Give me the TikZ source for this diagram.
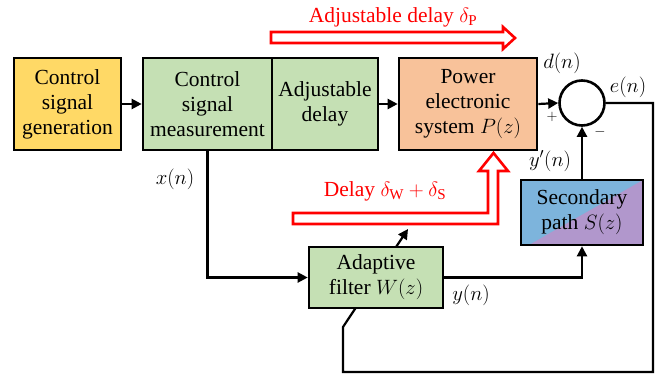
\documentclass[tikz,border=0pt]{standalone}
\usepackage{fontspec}
\setmainfont{Liberation Serif}
\usetikzlibrary{arrows.meta}
\definecolor{cyel}{HTML}{FFD966}
\definecolor{cgrn}{HTML}{C5E0B4}
\definecolor{corg}{HTML}{F8C29A}
\definecolor{cblu}{HTML}{7DB4DC}
\definecolor{cpur}{HTML}{B197CC}
\definecolor{cred}{HTML}{FF0000}
\begin{document}
\begin{tikzpicture}[x=1pt,y=-1pt,
  blk/.style={draw=black,line width=2.6pt,align=center,inner sep=0pt,
    font=\fontsize{21.5}{25}\selectfont},
  conn/.style={line width=2.2pt,-{Triangle[length=10pt,width=10pt]}},
  lbl/.style={font=\fontsize{21.5}{25}\selectfont,inner sep=0pt},
  hollow/.style={draw=cred,line width=2.6pt,fill=white,line join=miter}]
\useasboundingbox (0,0) rectangle (671,374);

% nodes
\node[blk,fill=cyel,minimum width=107pt,minimum height=92pt] (gen) at (67.5,104) {Control\\signal\\generation};
\node[blk,fill=cgrn,minimum width=129pt,minimum height=92pt] (meas) at (207.5,104) {Control\\signal\\measurement};
\node[blk,fill=cgrn,minimum width=106pt,minimum height=92pt] (adj) at (325,104) {Adjustable\\delay};
\node[blk,fill=corg,minimum width=138pt,minimum height=92pt] (pes) at (468,104) {Power\\electronic\\system $P(z)$};
\node[draw=black,line width=2.6pt,circle,minimum size=45pt,inner sep=0pt] (sum) at (582,103) {};
\node[blk,minimum width=122pt,minimum height=65pt,
  path picture={\fill[cblu] (path picture bounding box.north west) rectangle (path picture bounding box.south east);
    \fill[cpur] ([xshift=8pt]path picture bounding box.south west) -- (path picture bounding box.north east) -- (path picture bounding box.south east) -- cycle;}]
  (sec) at (582,212.5) {Secondary\\path $S(z)$};

\coordinate (c1) at (653,103);
\coordinate (c2) at (653,372);
\coordinate (c3) at (343,372);
\coordinate (c4) at (343,327);
\coordinate (c5) at (408,229);
\draw[conn] (sum.east) -- (c1) -- (c2) -- (c3) -- (c4) -- (c5);

\node[blk,fill=cgrn,minimum width=134pt,minimum height=61pt] (filt) at (376,277.5) {Adaptive\\filter $W(z)$};

% connectors
\draw[conn] (gen.east) -- (meas.west);
\draw[conn] (adj.east |- pes.west) -- (pes.west);
\draw[conn] (pes.east) -- (sum.west);
\draw[conn] (meas.south) |- (filt.west);
\draw[conn] (filt.east) -| (sec.south);
\draw[conn] (sec.north) -- (sum.south);

% labels
\node[lbl] (ld) at (562,63) {$d(n)$};
\node[lbl] (le) at (628,87) {$e(n)$};
\node[lbl,font=\fontsize{15}{15}\selectfont] (lp) at (552,117) {$+$};
\node[lbl,font=\fontsize{15}{15}\selectfont] (lm) at (600,132) {$-$};
\node[lbl] (lyp) at (550,161) {$y'(n)$};
\node[lbl] (lx) at (175,179) {$x(n)$};
\node[lbl] (ly) at (471,295) {$y(n)$};

% red hollow arrows
\draw[hollow] (271,32) -- (503,32) -- (503,27) -- (515,38) -- (503,49) -- (503,43) -- (271,43) -- cycle;
\node[lbl,text=cred] (ladj) at (393,17) {Adjustable delay $\delta_{\mathrm{P}}$};
\draw[hollow] (293,213) -- (488,213) -- (488,171) -- (479,171) -- (493.5,153) -- (508,171) -- (498,171) -- (498,224) -- (293,224) -- cycle;
\node[lbl,text=cred] (ldel) at (385,191) {Delay $\delta_{\mathrm{W}}+\delta_{\mathrm{S}}$};
\end{tikzpicture}
\end{document}
